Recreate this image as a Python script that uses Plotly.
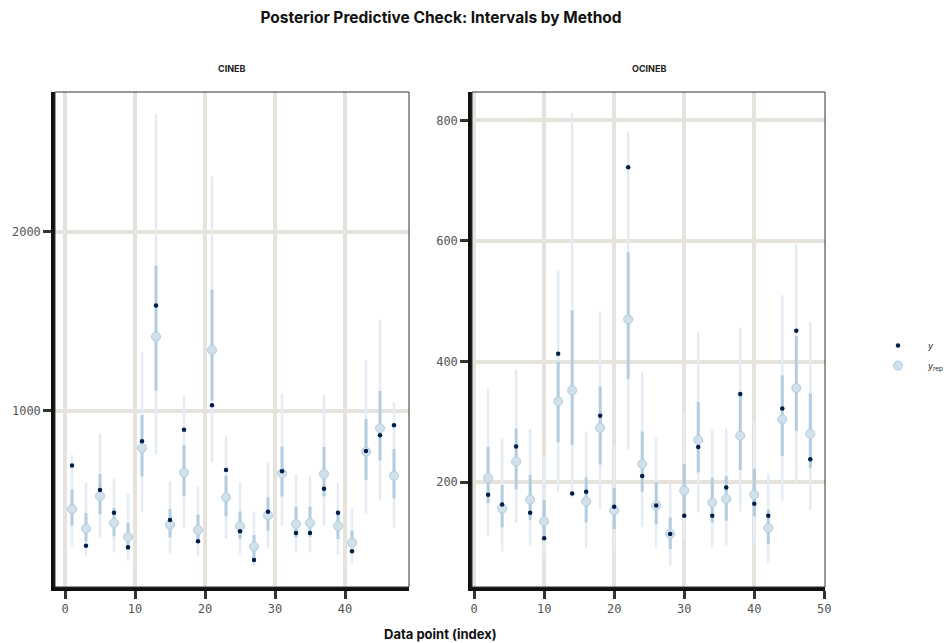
import plotly.graph_objects as go

# ---- CINEB panel data ----
cineb_x = [1, 3, 5, 7, 9, 11, 13, 15, 17, 19, 21, 23, 25, 27, 29, 31, 33, 35, 37, 39, 41, 43, 45, 47]
cineb_y = [693, 246, 557, 430, 237, 829, 1587, 389, 894, 270, 1030, 669, 326, 166, 436, 661, 317, 317, 564, 430, 214, 775, 862, 918]
cineb_yrep = [451, 341, 523, 372, 294, 792, 1413, 363, 654, 333, 1339, 516, 354, 240, 415, 650, 367, 372, 646, 356, 263, 771, 902, 637]
cineb_lo_in = [357, 270, 421, 298, 218, 633, 1112, 292, 521, 270, 1056, 410, 283, 162, 330, 521, 292, 296, 521, 283, 237, 614, 722, 510]
cineb_hi_in = [559, 428, 646, 456, 372, 976, 1810, 451, 808, 419, 1676, 637, 437, 305, 516, 799, 462, 464, 797, 434, 330, 953, 1110, 786]
cineb_lo_out = [240, 192, 289, 207, 162, 436, 760, 199, 348, 184, 711, 283, 195, 132, 229, 359, 205, 207, 359, 195, 144, 426, 497, 348]
cineb_hi_out = [754, 598, 873, 626, 536, 1326, 2658, 607, 1084, 581, 2309, 855, 603, 436, 711, 1097, 646, 633, 1087, 596, 456, 1283, 1510, 1046]

# ---- OCINEB panel data ----
ocineb_x = [2, 4, 6, 8, 10, 12, 14, 16, 18, 20, 22, 24, 26, 28, 30, 32, 34, 36, 38, 40, 42, 44, 46, 48]
ocineb_y = [179, 163, 259, 149, 107, 413, 181, 184, 310, 159, 722, 210, 161, 114, 144, 258, 144, 191, 346, 164, 144, 322, 451, 238]
ocineb_yrep = [207, 156, 234, 171, 135, 334, 352, 168, 290, 153, 470, 230, 161, 114, 186, 270, 166, 172, 277, 179, 124, 304, 356, 280]
ocineb_lo_in = [165, 125, 188, 137, 106, 266, 262, 133, 229, 122, 371, 184, 130, 89, 143, 216, 133, 136, 220, 143, 97, 243, 285, 223]
ocineb_hi_in = [258, 195, 289, 212, 170, 400, 485, 208, 359, 190, 581, 284, 200, 141, 230, 333, 207, 210, 348, 222, 154, 377, 442, 347]
ocineb_lo_out = [111, 85, 132, 94, 75, 184, 175, 91, 155, 85, 254, 126, 91, 62, 104, 150, 92, 95, 151, 99, 66, 169, 198, 154]
ocineb_hi_out = [355, 273, 387, 288, 243, 551, 813, 284, 483, 261, 780, 383, 273, 198, 318, 450, 287, 289, 456, 301, 214, 510, 594, 466]

panel_titles = ["CINEB", "OCINEB"]
left_yticks = [1000, 2000]
right_yticks = [200, 400, 600, 800]
left_xticks = [0, 10, 20, 30, 40]
right_xticks = [0, 10, 20, 30, 40, 50]

C_OUT = "#e4edf5"
C_IN = "#b3cde0"
C_FILL = "#d1e1ec"
C_DARK = "#011f4b"
GRID = "#e6e3dc"


def segs(xs, lo, hi):
    sx, sy = [], []
    for x, a, b in zip(xs, lo, hi):
        sx += [x, x, None]
        sy += [a, b, None]
    return sx, sy


fig = go.Figure()

panels = [
    (cineb_x, cineb_y, cineb_yrep, cineb_lo_in, cineb_hi_in, cineb_lo_out, cineb_hi_out, "x", "y"),
    (ocineb_x, ocineb_y, ocineb_yrep, ocineb_lo_in, ocineb_hi_in, ocineb_lo_out, ocineb_hi_out, "x2", "y2"),
]

for i, (xs, ys, yr, li, hi, lo, ho, xa, ya) in enumerate(panels):
    ox, oy = segs(xs, lo, ho)
    fig.add_trace(go.Scatter(x=ox, y=oy, mode="lines", line=dict(color=C_OUT, width=2.5),
                             showlegend=False, hoverinfo="skip", xaxis=xa, yaxis=ya))
    ix, iy = segs(xs, li, hi)
    fig.add_trace(go.Scatter(x=ix, y=iy, mode="lines", line=dict(color=C_IN, width=3),
                             showlegend=False, hoverinfo="skip", xaxis=xa, yaxis=ya))
    fig.add_trace(go.Scatter(x=xs, y=yr, mode="markers",
                             marker=dict(size=9, color=C_FILL, line=dict(color=C_IN, width=1)),
                             name="<i>y</i><sub>rep</sub>", legendgroup="yrep", legendrank=2,
                             showlegend=(i == 0), xaxis=xa, yaxis=ya))
    fig.add_trace(go.Scatter(x=xs, y=ys, mode="markers",
                             marker=dict(size=4.5, color=C_DARK),
                             name="<i>y</i>", legendgroup="y", legendrank=1,
                             showlegend=(i == 0), xaxis=xa, yaxis=ya))

tickfont = dict(family="DejaVu Sans Mono", size=12, color="#555555")
common_x = dict(showgrid=True, gridcolor=GRID, gridwidth=3.5, zeroline=False,
                showline=True, linecolor="#111111", linewidth=3.5,
                ticks="outside", ticklen=8, tickwidth=3, tickcolor="#333333",
                tickfont=tickfont)
common_y = dict(showgrid=True, gridcolor=GRID, gridwidth=3.5, zeroline=False,
                showline=True, linecolor="#111111", linewidth=3.5,
                ticks="outside", ticklen=8, tickwidth=3, tickcolor="#333333",
                tickfont=tickfont)

W, H = 944, 643
ml, mr, mt, mb = 55, 119, 92, 56
pw = W - ml - mr
ph = H - mt - mb
d1 = [0, (409 - ml) / pw]
d2 = [(472 - ml) / pw, 1]

fig.update_layout(
    width=W, height=H,
    margin=dict(l=ml, r=mr, t=mt, b=mb, autoexpand=False),
    paper_bgcolor="white", plot_bgcolor="white",
    title=dict(text="<b>Posterior Predictive Check: Intervals by Method</b>",
               x=441 / W, xanchor="center", y=1 - 18 / H, yanchor="middle",
               font=dict(family="Inter", size=15.5, color="#111111")),
    xaxis=dict(common_x, domain=d1, range=[-1.43, 49.14], tickvals=left_xticks, anchor="y"),
    yaxis=dict(common_y, domain=[0, 1], range=[15, 2780], tickvals=left_yticks, anchor="x"),
    xaxis2=dict(common_x, domain=d2, range=[-0.3, 50.1], tickvals=right_xticks, anchor="y2"),
    yaxis2=dict(common_y, domain=[0, 1], range=[26, 847], tickvals=right_yticks, anchor="x2"),
    legend=dict(x=(868 - ml) / pw, y=1 - (331 - mt) / ph, xanchor="left", yanchor="top",
                font=dict(family="Inter", size=9, color="#222222"), bgcolor="rgba(0,0,0,0)",
                itemwidth=50, tracegroupgap=1),
    showlegend=True,
)

# thin frame on top/right of each panel
for xr, yr in (("x domain", "y domain"), ("x2 domain", "y2 domain")):
    fig.add_shape(type="rect", xref=xr, yref=yr, x0=0, x1=1, y0=0, y1=1,
                  line=dict(color="#333333", width=1), layer="above")

# facet titles
for t, d in zip(panel_titles, (d1, d2)):
    fig.add_annotation(text="<b>" + t + "</b>", xref="paper", yref="paper",
                       x=(d[0] + d[1]) / 2, y=1 + (92 - 69) / ph,
                       showarrow=False, xanchor="center", yanchor="middle",
                       font=dict(family="Inter", size=9, color="#222222"))

# x-axis title
fig.add_annotation(text="<b>Data point (index)</b>", xref="paper", yref="paper",
                   x=(441 - ml) / pw, y=-(634 - (H - mb)) / ph,
                   showarrow=False, xanchor="center", yanchor="middle",
                   font=dict(family="Inter", size=13, color="#111111"))

fig.write_html("out.html")
